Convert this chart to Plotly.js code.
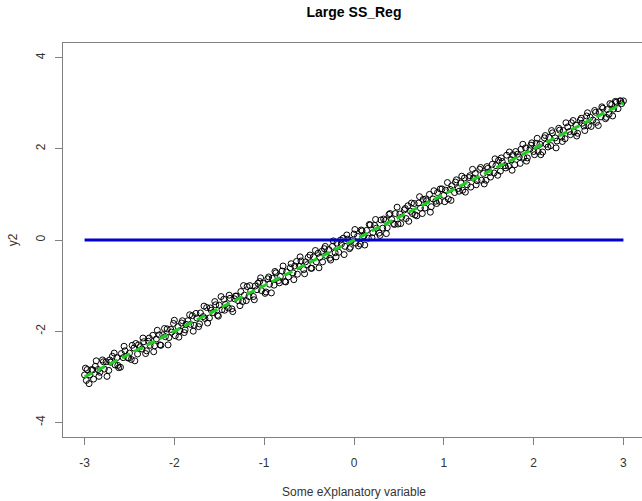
<!DOCTYPE html>
<html>
<head>
<meta charset="utf-8">
<script src="https://cdn.plot.ly/plotly-3.0.1.min.js"></script>
<style>
html,body{margin:0;padding:0;overflow:hidden;background:#fff;}
#chart{width:646px;height:501px;}
</style>
</head>
<body>
<div id="chart"></div>
<script>
// Scatter points (x, y2)
const xVals = [
-3.00,-2.98,-2.97,-2.94,-2.92,-2.90,-2.88,-2.85,-2.83,-2.80,
-2.78,-2.76,-2.73,-2.71,-2.69,-2.66,-2.64,-2.62,-2.59,-2.57,
-2.55,-2.52,-2.50,-2.48,-2.45,-2.43,-2.41,-2.38,-2.36,-2.34,
-2.31,-2.29,-2.27,-2.24,-2.22,-2.20,-2.17,-2.15,-2.13,-2.10,
-2.08,-2.06,-2.03,-2.01,-1.99,-1.96,-1.94,-1.92,-1.89,-1.87,
-1.85,-1.82,-1.80,-1.78,-1.75,-1.73,-1.71,-1.68,-1.66,-1.64,
-1.61,-1.59,-1.57,-1.54,-1.52,-1.50,-1.47,-1.45,-1.43,-1.40,
-1.38,-1.36,-1.33,-1.31,-1.29,-1.26,-1.24,-1.22,-1.19,-1.17,
-1.15,-1.12,-1.10,-1.08,-1.05,-1.03,-1.01,-0.98,-0.96,-0.94,
-0.91,-0.89,-0.87,-0.84,-0.82,-0.80,-0.77,-0.75,-0.73,-0.70,
-0.68,-0.66,-0.63,-0.61,-0.59,-0.56,-0.54,-0.52,-0.49,-0.47,
-0.45,-0.42,-0.40,-0.38,-0.35,-0.33,-0.31,-0.28,-0.26,-0.24,
-0.21,-0.19,-0.17,-0.14,-0.12,-0.10,-0.07,-0.05,-0.03,0.00,
0.02,0.04,0.07,0.09,0.11,0.14,0.16,0.18,0.21,0.23,
0.25,0.28,0.30,0.32,0.35,0.37,0.39,0.42,0.44,0.46,
0.49,0.51,0.53,0.56,0.58,0.60,0.63,0.65,0.67,0.70,
0.72,0.74,0.77,0.79,0.81,0.84,0.86,0.88,0.91,0.93,
0.95,0.98,1.00,1.02,1.05,1.07,1.09,1.12,1.14,1.16,
1.19,1.21,1.23,1.26,1.28,1.30,1.33,1.35,1.37,1.40,
1.42,1.44,1.47,1.49,1.51,1.54,1.56,1.58,1.61,1.63,
1.65,1.68,1.70,1.72,1.75,1.77,1.79,1.82,1.84,1.86,
1.89,1.91,1.93,1.96,1.98,2.00,2.03,2.05,2.07,2.10,
2.12,2.14,2.17,2.19,2.21,2.24,2.26,2.28,2.31,2.33,
2.35,2.38,2.40,2.42,2.45,2.47,2.49,2.52,2.54,2.56,
2.59,2.61,2.63,2.66,2.68,2.70,2.73,2.75,2.77,2.80,
2.82,2.84,2.87,2.89,2.91,2.94,2.96,2.98,3.00
];
const y2Vals = [
-2.96,-3.08,-2.84,-2.96,-2.84,-3.05,-2.77,-2.84,-2.90,-2.63,
-2.83,-2.67,-2.86,-2.68,-2.55,-2.74,-2.58,-2.80,-2.49,-2.58,
-2.43,-2.58,-2.48,-2.62,-2.37,-2.27,-2.50,-2.34,-2.39,-2.23,
-2.43,-2.22,-2.31,-2.09,-2.32,-2.17,-2.08,-2.31,-2.08,-2.12,
-1.95,-2.14,-2.02,-1.83,-2.10,-1.90,-1.99,-1.82,-2.03,-1.85,
-1.77,-1.85,-1.66,-1.87,-1.71,-1.90,-1.60,-1.68,-1.72,-1.48,
-1.71,-1.54,-1.59,-1.42,-1.65,-1.43,-1.53,-1.30,-1.41,-1.49,
-1.28,-1.51,-1.29,-1.23,-1.33,-1.13,-1.35,-1.21,-1.02,-1.24,
-1.12,-1.24,-1.01,-1.09,-0.91,-1.11,-0.95,-1.14,-0.85,-0.97,
-0.84,-0.99,-0.72,-0.89,-0.80,-0.68,-0.91,-0.70,-0.81,-0.52,
-0.72,-0.57,-0.75,-0.58,-0.46,-0.65,-0.48,-0.54,-0.33,-0.62,
-0.37,-0.48,-0.29,-0.38,-0.48,-0.19,-0.34,-0.21,-0.44,-0.14,
-0.28,-0.07,-0.27,-0.09,0.04,-0.14,0.02,-0.19,-0.01,0.13,
-0.07,0.08,-0.09,0.20,0.09,0.21,0.04,0.33,0.16,0.32,
0.26,0.15,0.44,0.26,0.43,0.27,0.56,0.45,0.36,0.58,
0.35,0.57,0.50,0.66,0.47,0.75,0.63,0.58,0.80,0.53,
0.81,0.70,0.89,0.70,0.86,1.00,0.73,0.90,0.85,1.04,
0.85,1.12,0.98,1.09,0.90,1.11,1.19,1.04,1.32,1.13,
1.25,1.09,1.36,1.21,1.37,1.16,1.36,1.46,1.30,1.55,
1.31,1.46,1.31,1.57,1.48,1.66,1.47,1.63,1.75,1.51,
1.72,1.63,1.86,1.62,1.76,1.87,1.65,1.88,1.82,1.99,
1.81,2.02,1.80,2.00,2.13,1.94,2.12,1.94,2.10,1.93,
2.24,2.10,2.25,2.07,2.35,2.24,2.17,2.45,2.26,2.40,
2.22,2.48,2.38,2.57,2.37,2.52,2.34,2.63,2.56,2.50,
2.72,2.51,2.69,2.63,2.84,2.58,2.81,2.70,2.89,2.66,
2.86,2.76,2.97,2.87,3.04,2.88,3.05,2.99,3.05
];
// Further, more scattered points of the same cloud
const xMore = [
-2.99,-2.95,-2.91,-2.87,-2.84,-2.79,-2.75,-2.72,-2.67,-2.63,
-2.60,-2.56,-2.51,-2.47,-2.44,-2.40,-2.35,-2.32,-2.28,-2.23,
-2.19,-2.16,-2.11,-2.07,-2.04,-2.00,-1.95,-1.91,-1.88,-1.83,
-1.79,-1.76,-1.72,-1.67,-1.63,-1.60,-1.55,-1.51,-1.48,-1.44,
-1.39,-1.35,-1.32,-1.27,-1.23,-1.20,-1.16,-1.11,-1.07,-1.04,
-0.99,-0.95,-0.92,-0.88,-0.83,-0.79,-0.76,-0.71,-0.67,-0.64,
-0.60,-0.55,-0.51,-0.48,-0.43,-0.39,-0.36,-0.32,-0.27,-0.23,
-0.20,-0.15,-0.11,-0.08,-0.04,0.01,0.05,0.08,0.12,0.17,
0.20,0.24,0.29,0.33,0.36,0.40,0.45,0.48,0.52,0.57,
0.61,0.64,0.68,0.73,0.76,0.80,0.85,0.89,0.92,0.96,
1.01,1.04,1.08,1.13,1.17,1.20,1.24,1.29,1.32,1.36,
1.41,1.45,1.48,1.52,1.57,1.60,1.64,1.69,1.73,1.76,
1.80,1.85,1.88,1.92,1.97,2.01,2.04,2.08,2.13,2.16,
2.20,2.25,2.29,2.32,2.36,2.41,2.44,2.48,2.53,2.57,
2.60,2.64,2.69,2.72,2.76,2.81,2.85,2.88,2.92,2.97
];
const y2More = [
-2.81,-3.15,-2.85,-2.65,-2.99,-2.67,-2.99,-2.63,-2.48,-2.75,
-2.79,-2.33,-2.59,-2.31,-2.65,-2.30,-2.15,-2.49,-2.15,-2.45,
-1.98,-2.30,-1.94,-2.30,-1.96,-1.76,-2.13,-1.77,-1.97,-1.64,
-2.00,-1.61,-1.84,-1.45,-1.82,-1.49,-1.35,-1.67,-1.24,-1.54,
-1.21,-1.57,-1.23,-1.44,-1.00,-1.33,-1.00,-1.31,-0.95,-0.83,
-1.17,-0.81,-1.16,-0.69,-0.94,-0.57,-0.92,-0.61,-0.87,-0.47,
-0.37,-0.74,-0.38,-0.62,-0.23,-0.61,-0.25,-0.14,-0.40,-0.02,
-0.37,0.00,-0.32,0.11,-0.16,0.23,-0.13,0.22,-0.11,0.34,
0.05,0.45,0.10,0.46,0.14,0.58,0.34,0.72,0.36,0.69,
0.41,0.81,0.55,0.95,0.58,0.90,0.61,1.08,0.80,1.12,
0.84,1.26,0.87,1.27,1.07,1.40,1.05,1.41,1.55,1.21,
1.59,1.23,1.61,1.38,1.78,1.42,1.80,1.58,1.93,1.53,
1.94,1.68,2.10,1.73,2.08,1.87,2.23,1.87,2.29,2.04,
2.40,2.02,2.41,2.16,2.57,2.31,2.62,2.28,2.67,2.40,
2.79,2.49,2.80,2.51,2.92,2.69,2.99,2.72,3.02,3.05
];
// Reference lines
const lineX = [-3, 3];
const fitY = [-3, 3];     // green dashed fitted line
const meanY = [0, 0];     // blue horizontal mean line
const xTicks = [-3, -2, -1, 0, 1, 2, 3];
const yTicks = [-4, -2, 0, 2, 4];

const font = "Liberation Sans, Arial, sans-serif";

const traces = [
  {x: xVals.concat(xMore), y: y2Vals.concat(y2More), type: 'scatter', mode: 'markers',
   marker: {symbol: 'circle-open', size: 6, color: '#000', line: {width: 1, color: '#000'}},
   hoverinfo: 'skip'},
  {x: lineX, y: meanY, type: 'scatter', mode: 'lines',
   line: {color: '#0000cd', width: 3}},
  {x: lineX, y: fitY, type: 'scatter', mode: 'lines',
   line: {color: '#22cc22', width: 3, dash: '9px,5px'}}
];

const axisCommon = {
  showgrid: false, zeroline: false, showline: true, mirror: true,
  linecolor: '#808080', linewidth: 1,
  ticks: 'outside', ticklen: 7, tickcolor: '#808080', tickwidth: 1,
  tickfont: {family: font, size: 12, color: '#333'}
};

const layout = {
  width: 646, height: 501,
  margin: {l: 63, r: 1, t: 43, b: 64},
  paper_bgcolor: '#fff', plot_bgcolor: '#fff',
  showlegend: false,
  title: {text: '<b>Large SS_Reg</b>', font: {family: font, size: 14, color: '#000'},
          x: 0.5, xref: 'paper', y: 0.975, yanchor: 'middle'},
  xaxis: Object.assign({}, axisCommon, {
    range: [-3.24, 3.24], tickvals: xTicks, ticktext: xTicks.map(String),
    ticklabelstandoff: 8,
    title: {text: 'Some eXplanatory variable', font: {family: font, size: 12, color: '#333'}, standoff: 18}
  }),
  yaxis: Object.assign({}, axisCommon, {
    range: [-4.32, 4.32], tickvals: yTicks, ticktext: yTicks.map(String), tickangle: -90,
    ticklabelstandoff: 5,
    title: {text: 'y2', font: {family: font, size: 12, color: '#333'}, standoff: 14}
  })
};

Plotly.newPlot('chart', traces, layout, {staticPlot: true, displayModeBar: false});
</script>
</body>
</html>
